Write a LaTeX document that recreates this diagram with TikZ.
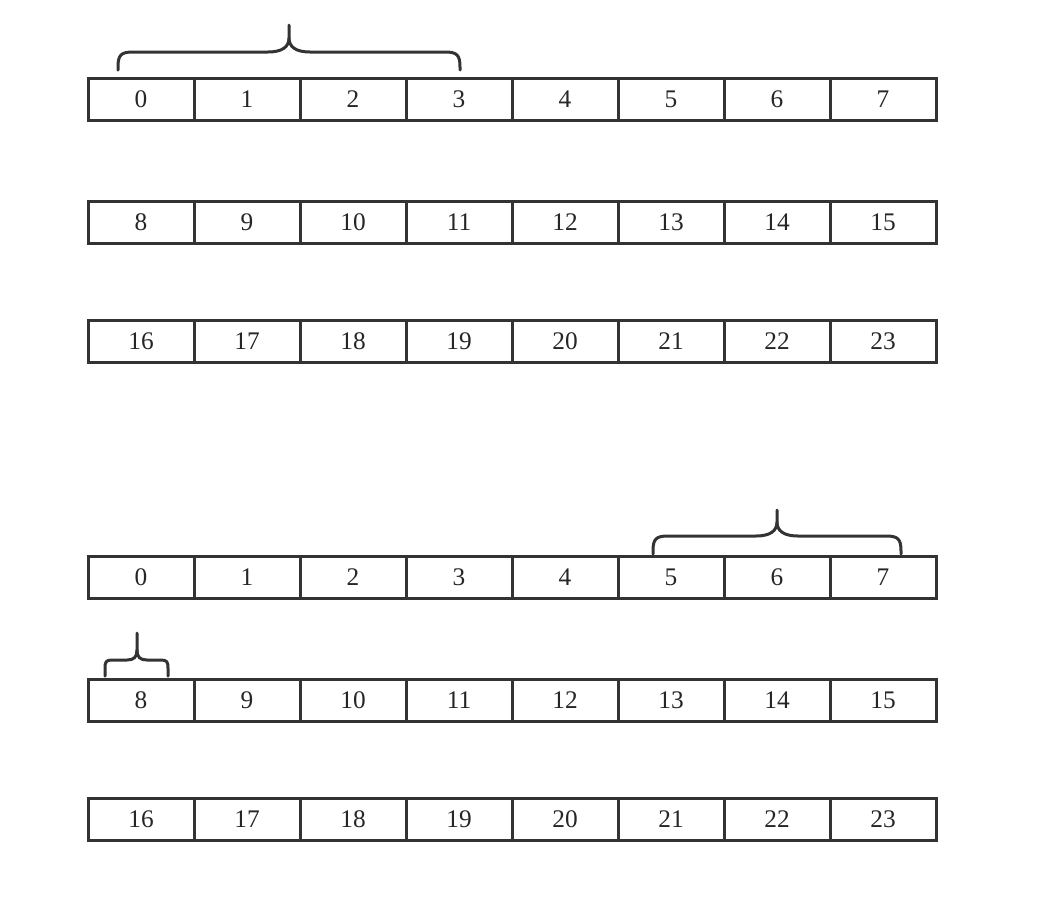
\documentclass[tikz,border=0pt]{standalone}
\usepackage{fontspec}
\setmainfont{Liberation Serif}
\begin{document}
\begin{tikzpicture}[x=0.75pt,y=-0.75pt,
  cell/.style={draw=black!80, line width=2.25pt, minimum width=79.5pt, minimum height=31.5pt,
    inner sep=0pt, outer sep=0pt, font=\fontsize{19}{19}\selectfont, text=black!85},
  bracepath/.style={draw=black!80, line width=2.25pt, line cap=round, line join=round}]
\useasboundingbox (0,0) rectangle (1060,904);
% rows
\foreach \r/\yc/\base in {1/99/0, 2/222/8, 3/341/16, 4/577/0, 5/700/8, 6/819/16}{
  \foreach \c in {0,...,7}{
    \pgfmathtruncatemacro{\num}{\base+\c}
    \node[cell] (r\r c\c) at (141+106*\c,\yc) {\num};
  }
}
% brace 1 (over 0..3 of the first row)
\coordinate (b1l) at (118,70);
\coordinate (b1r) at (460,70);
\coordinate (b1t) at (289,25);
\draw[bracepath] (b1l) -- (118,67) .. controls (118,55) and (121,52) .. (133,52)
  -- (268,52) .. controls (282,52) and (289,47) .. (289,38) -- (b1t);
\draw[bracepath] (b1r) -- (460,67) .. controls (460,55) and (457,52) .. (445,52)
  -- (310,52) .. controls (296,52) and (289,47) .. (289,38);
% brace 2 (over 5..7 of the fourth row)
\coordinate (b2l) at (653,554);
\coordinate (b2r) at (901,554);
\coordinate (b2t) at (777,510);
\draw[bracepath] (b2l) -- (653,551) .. controls (653,539) and (656,536) .. (668,536)
  -- (756,536) .. controls (770,536) and (777,531) .. (777,522) -- (b2t);
\draw[bracepath] (b2r) -- (901,551) .. controls (901,539) and (898,536) .. (886,536)
  -- (798,536) .. controls (784,536) and (777,531) .. (777,522);
% brace 3 (over 8)
\coordinate (b3l) at (105,676);
\coordinate (b3r) at (168,676);
\coordinate (b3t) at (137,633);
\draw[bracepath] (b3l) -- (105,668) .. controls (105,662) and (106,660) .. (112,660)
  -- (127,660) .. controls (134,660) and (137,657) .. (137,650) -- (b3t);
\draw[bracepath] (b3r) -- (168,668) .. controls (168,662) and (167,660) .. (161,660)
  -- (147,660) .. controls (140,660) and (137,657) .. (137,650);
\end{tikzpicture}
\end{document}
